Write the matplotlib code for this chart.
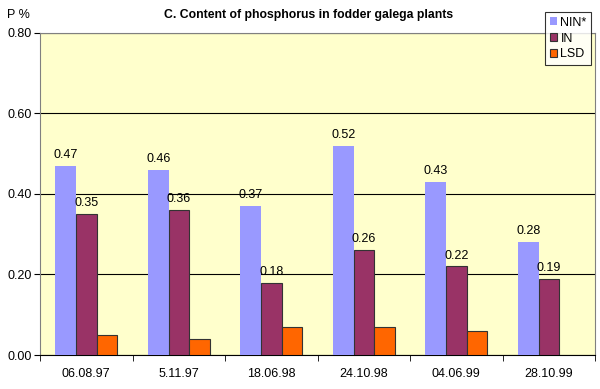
import matplotlib

matplotlib.use("Agg")
import matplotlib.pyplot as plt
import numpy as np

plt.rcParams["font.family"] = ["Liberation Sans", "DejaVu Sans"]

dates = ["06.08.97", "5.11.97", "18.06.98", "24.10.98", "04.06.99", "28.10.99"]
nin = [0.47, 0.46, 0.37, 0.52, 0.43, 0.28]
in_vals = [0.35, 0.36, 0.18, 0.26, 0.22, 0.19]
lsd = [0.05, 0.04, 0.07, 0.07, 0.06, np.nan]

fig = plt.figure(figsize=(6, 3.89), dpi=100)
ax = fig.add_axes([0.0667, 0.0874, 0.925, 0.828])
ax.set_facecolor("#FFFFCC")

x = np.arange(len(dates))
w = 0.222
b1 = ax.bar(x - w, nin, w, color="#9999FF", label="NIN*", zorder=3)
b2 = ax.bar(x, in_vals, w, color="#993366", edgecolor="#333333", linewidth=0.8,
            label="IN", zorder=3)
b3 = ax.bar(x + w, lsd, w, color="#FF6600", edgecolor="#333333", linewidth=0.8,
            label="LSD", zorder=3)

for xi, v in zip(x, nin):
    ax.text(xi - w, v + 0.012, f"{v:.2f}", ha="center", va="bottom", fontsize=9)
for xi, v in zip(x, in_vals):
    ax.text(xi, v + 0.012, f"{v:.2f}", ha="center", va="bottom", fontsize=9)

ax.set_xlim(-0.5, len(dates) - 0.5)
ax.set_ylim(0, 0.8)
ax.set_yticks([0, 0.2, 0.4, 0.6, 0.8])
ax.set_yticklabels([f"{t:.2f}" for t in [0, 0.2, 0.4, 0.6, 0.8]], fontsize=9)
ax.set_xticks(x)
ax.set_xticklabels(dates, fontsize=9)
ax.tick_params(axis="x", length=0, pad=9)
ax.set_xticks(np.arange(-0.5, len(dates) + 0.5, 1), minor=True)
ax.tick_params(axis="x", which="minor", length=4, color="black")
ax.tick_params(axis="y", length=4, direction="out", pad=2)
ax.yaxis.grid(True, color="black", linewidth=0.8, zorder=1)

for side in ["top", "right"]:
    ax.spines[side].set_color("#808080")
ax.spines["left"].set_color("#808080")
ax.spines["bottom"].set_color("black")

fig.text(0.514, 0.962, "C. Content of phosphorus in fodder galega plants",
         ha="center", va="center", fontsize=8.8, fontweight="bold")
fig.text(0.03, 0.962, "P %", ha="center", va="center", fontsize=9)

leg = fig.legend(handles=[b1, b2, b3], loc="upper right",
                 bbox_to_anchor=(0.985, 0.968), fontsize=9, frameon=True,
                 fancybox=False, edgecolor="black", handlelength=0.6,
                 handleheight=0.6, handletextpad=0.25, borderpad=0.35,
                 labelspacing=0.3, borderaxespad=0)
leg.get_frame().set_linewidth(0.8)

fig.savefig("out.png", dpi=100)
